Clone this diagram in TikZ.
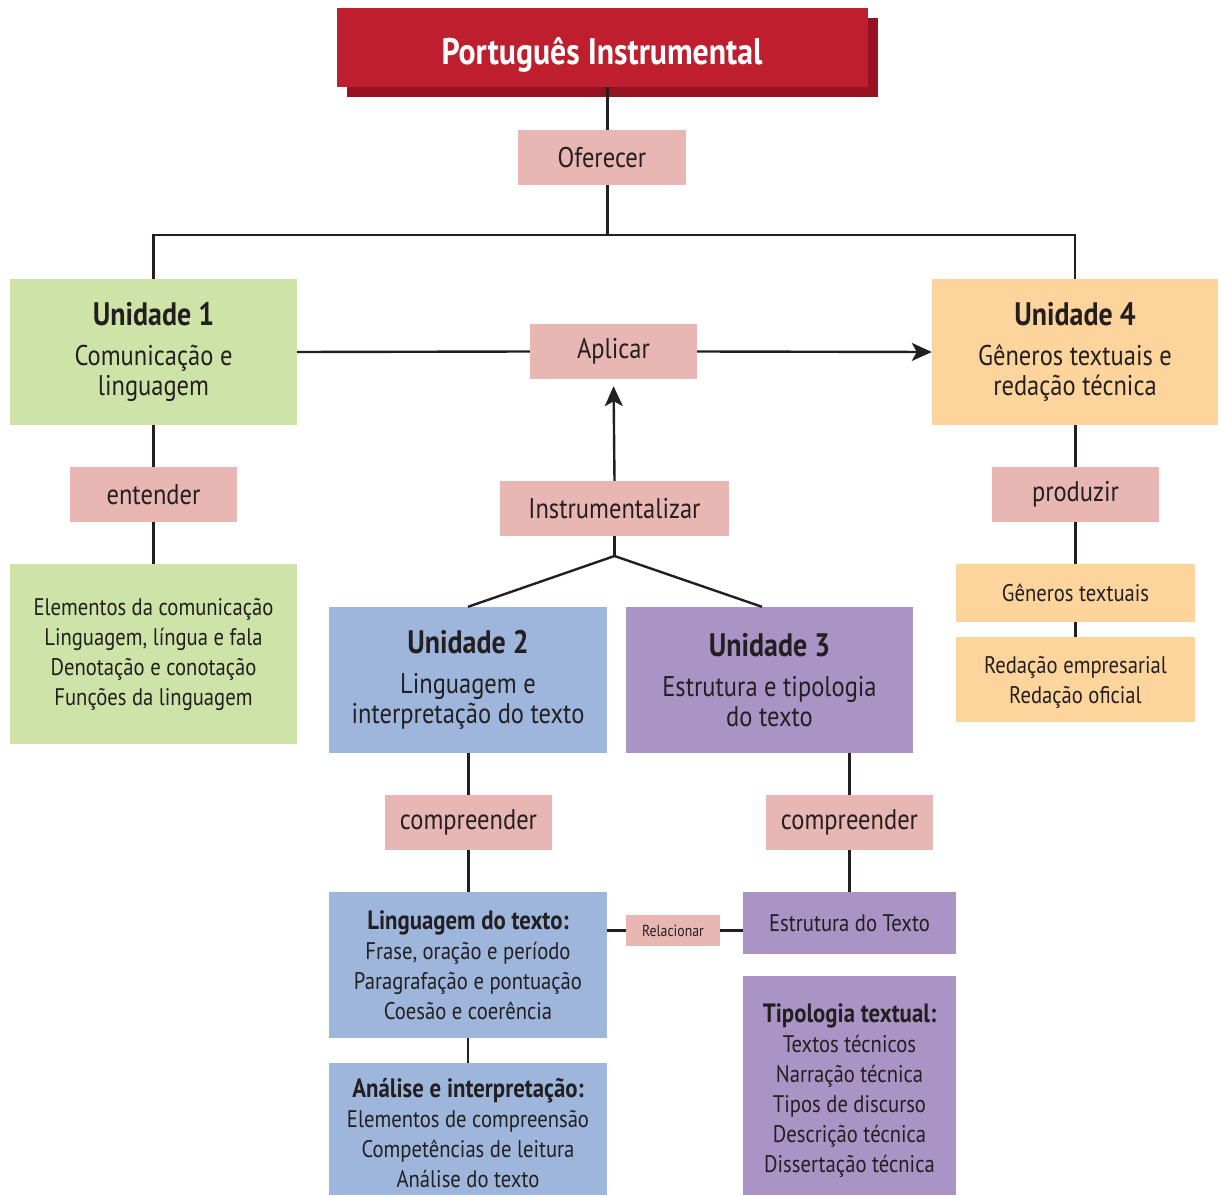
\documentclass[tikz,border=0pt]{standalone}
\usepackage{fontspec}
\setmainfont{PT Sans}[FakeStretch=0.86]
\usetikzlibrary{arrows.meta}

\definecolor{ink}{HTML}{231F20}
\definecolor{titlered}{HTML}{BE1E2D}
\definecolor{titleshade}{HTML}{961221}
\definecolor{verbpink}{HTML}{E8B7B4}
\definecolor{unitgreen}{HTML}{CDE3A8}
\definecolor{unitorange}{HTML}{FDD59C}
\definecolor{unitblue}{HTML}{9EB6DC}
\definecolor{unitpurple}{HTML}{AA94C6}

\tikzset{
  box/.style args={#1/#2}{rectangle, inner sep=0pt, align=center, text=ink,
    minimum width=#1pt, minimum height=#2pt},
  verb/.style={fill=verbpink, font=\fontsize{28.5}{30}\selectfont},
  unitbox/.style={font=\fontsize{28.5}{30}\selectfont},
  listbox/.style={font=\fontsize{24}{30}\selectfont},
  plaintext/.style={inner sep=0pt, align=center, text=ink},
  link/.style={draw=ink, line width=2.4pt},
  arrowlink/.style={link, -{Stealth[length=20pt,width=18pt,inset=5pt]}},
}
\newcommand{\unithead}[1]{{\fontsize{32.5}{30}\selectfont\bfseries #1}\\[10pt]}
\newcommand{\listhead}[1]{{\fontsize{26.5}{30}\selectfont\bfseries #1}\\}

\begin{document}
\begin{tikzpicture}[x=1pt,y=-1pt]
\useasboundingbox (0,0) rectangle (1219,1196);

% title banner with its offset shadow
\fill[titleshade] (347,18) rectangle (878,97);
\node[box=531/79, fill=titlered] (title) at (602.5,47.5) {};
\node[plaintext, text=white, font=\fontsize{37}{40}\selectfont\bfseries] at (602,54.5) {Português Instrumental};

% verbs
\node[box=168/55, verb] (oferecer) at (602,157.5) {Oferecer};
\node[box=167/55, verb] (aplicar) at (613.5,351.5) {Aplicar};
\node[box=229/55, verb] (instr) at (614.5,508.5) {Instrumentalizar};
\node[box=167/55, verb] (entender) at (153.5,494.5) {entender};
\node[box=167/55, verb] (produzir) at (1075.5,494.5) {produzir};
\node[box=167/55, verb] (comp2) at (468.5,822.5) {compreender};
\node[box=167/55, verb] (comp3) at (849.5,822.5) {compreender};
\node[box=94/31, fill=verbpink, text=ink, font=\fontsize{16}{18}\selectfont] (relac) at (673,930.5) {Relacionar};

% units
\node[box=287/146, unitbox, fill=unitgreen] (u1) at (153.5,352)
  {\unithead{Unidade 1}Comunicação e\\linguagem};
\node[box=286/146, unitbox, fill=unitorange] (u4) at (1075,352)
  {\unithead{Unidade 4}Gêneros textuais e\\redação técnica};
\node[box=278/146, unitbox, fill=unitblue] (u2) at (468,680)
  {\unithead{Unidade 2}Linguagem e\\interpretação do texto};
\node[box=287/146, unitbox, fill=unitpurple] (u3) at (769.5,680)
  {\unithead{Unidade 3}Estrutura e tipologia\\do texto};

% content lists
\node[box=287/180, listbox, fill=unitgreen] (l1) at (153.5,654)
  {Elementos da comunicação\\Linguagem, língua e fala\\Denotação e conotação\\Funções da linguagem};
\node[box=239/58, listbox, fill=unitorange] (l4a) at (1075.5,593) {Gêneros textuais};
\node[box=239/85, listbox, fill=unitorange] (l4b) at (1075.5,679.5) {};
\node[plaintext, listbox] at (1075.5,682.5) {Redação empresarial\\Redação oficial};
\node[box=278/146, listbox, fill=unitblue] (l2a) at (468,965)
  {\listhead{Linguagem do texto:}Frase, oração e período\\Paragrafação e pontuação\\Coesão e coerência};
\node[box=278/132, listbox, fill=unitblue] (l2b) at (468,1129) {};
\node[plaintext, listbox] at (468,1133)
  {\listhead{Análise e interpretação:}Elementos de compreensão\\Competências de leitura\\Análise do texto};
\node[box=213/62, listbox, fill=unitpurple] (l3a) at (849.5,923) {Estrutura do Texto};
\node[box=213/219, listbox, fill=unitpurple] (l3b) at (849.5,1085.5) {};
\node[plaintext, listbox] at (849.5,1090.5)
  {\listhead{Tipologia textual:}Textos técnicos\\Narração técnica\\Tipos de discurso\\Descrição técnica\\Dissertação técnica};

% junction points
\coordinate (split) at (607.5,235);
\coordinate (fork) at (614.5,556);

% connectors
\draw[link] (title.south -| split) -- (oferecer.north -| split);
\draw[link] (oferecer.south -| split) -- (split);
\draw[link] (u1.north) |- (split) -| (u4.north);
\draw[link] (u1.east) -- (aplicar.west);
\draw[arrowlink] (aplicar.east) -- (u4.west);
\draw[arrowlink, shorten >=7pt] (instr.north) -- (aplicar.south);
\draw[link] (instr.south) -- (fork);
\draw[link] (fork) -- (u2.north);
\draw[link] (fork) -- (u3.north -| 762,0);
\draw[link] (u1.south) -- (entender.north);
\draw[link] (entender.south) -- (entender.south |- l1.north);
\draw[link] (u4.south -| produzir) -- (produzir.north);
\draw[link] (produzir.south) -- (produzir.south |- l4a.north);
\draw[link] (l4a.south) -- (l4b.north);
\draw[link] (u2.south -| comp2) -- (comp2.north);
\draw[link] (comp2.south) -- (comp2.south |- l2a.north);
\draw[link] (l2a.south) -- (l2b.north);
\draw[link] (u3.south -| comp3) -- (comp3.north);
\draw[link] (comp3.south) -- (comp3.south |- l3a.north);
\draw[link] (l2a.east |- relac) -- (relac.west);
\draw[link] (relac.east) -- (l3a.west |- relac);
\end{tikzpicture}
\end{document}
